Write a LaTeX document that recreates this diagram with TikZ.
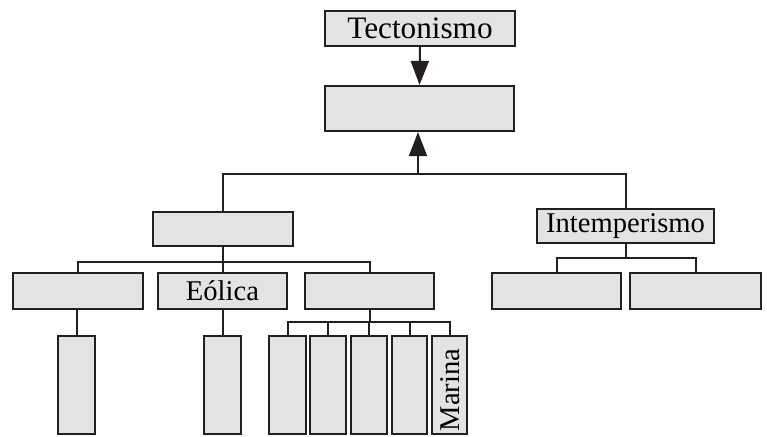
\documentclass[tikz,border=0pt]{standalone}
\usepackage{fontspec}
\setmainfont{Liberation Serif}
\usetikzlibrary{arrows.meta}
\definecolor{boxfill}{RGB}{226,227,229}
\definecolor{ink}{RGB}{35,31,32}
\begin{document}
\begin{tikzpicture}[x=0.5pt,y=-0.5pt,
  box/.style={draw=ink,fill=boxfill,line width=1.1pt,inner sep=0pt,font=\fontsize{14.3}{14.3}\selectfont},
  conn/.style={draw=ink,line width=1pt},
  arr/.style={conn,-{Triangle[length=12pt,width=9pt]}}]
\useasboundingbox (0,0) rectangle (767,436);
% nodes
\node[box,minimum width=95pt,minimum height=17.5pt,font=\fontsize{15.6}{15.6}\selectfont] (T) at (420,28.5) {Tectonismo};
\node[box,minimum width=94.5pt,minimum height=22.5pt] (M) at (419.5,108.5) {};
\node[box,minimum width=70pt,minimum height=17pt] (L) at (223,229) {};
\node[box,minimum width=88.5pt,minimum height=17pt] (I) at (625.5,226) {Intemperismo};
\node[box,minimum width=65pt,minimum height=18pt] (A) at (78,291) {};
\node[box,minimum width=64.5pt,minimum height=18pt] (E) at (222.5,291) {Eólica};
\node[box,minimum width=64.5pt,minimum height=18pt] (C) at (369.5,291) {};
\node[box,minimum width=64.5pt,minimum height=18pt] (I1) at (556.5,291) {};
\node[box,minimum width=65.5pt,minimum height=18pt] (I2) at (695.5,291) {};
\node[box,minimum width=18.5pt,minimum height=49pt] (V1) at (76.5,385) {};
\node[box,minimum width=18.5pt,minimum height=49pt] (V2) at (222.5,385) {};
\node[box,minimum width=18.5pt,minimum height=49pt] (C1) at (287.5,385) {};
\node[box,minimum width=18pt,minimum height=49pt] (C2) at (328,385) {};
\node[box,minimum width=18pt,minimum height=49pt] (C3) at (369,385) {};
\node[box,minimum width=17.5pt,minimum height=49pt] (C4) at (409.5,385) {};
\node[box,minimum width=17.5pt,minimum height=49pt] (C5) at (449.5,385) {};
\node[rotate=90,font=\fontsize{14.3}{14.3}\selectfont,inner sep=0pt] (MT) at (450,390) {Marina};
% junctions
\coordinate (hb) at (418,174);
\coordinate (lb) at (223,262);
\coordinate (rb) at (625.5,258);
\coordinate (cb) at (369.5,322);
% connectors
\draw[arr] (T.south) -- (M.north);
\draw[arr] (hb) -- (hb |- M.south);
\draw[conn] (L.north) |- (hb) -| (I.north);
\draw[conn] (L.south) -- (lb);
\draw[conn] (A.north) |- (lb) -| (C.north);
\draw[conn] (E.north) -- (E.north |- lb);
\draw[conn] (I.south) -- (rb);
\draw[conn] (I1.north) |- (rb) -| (I2.north);
\draw[conn] (A.south -| V1.north) -- (V1.north);
\draw[conn] (E.south) -- (V2.north);
\draw[conn] (C.south) -- (cb);
\draw[conn] (C1.north) |- (cb) -| (C5.north);
\draw[conn] (C2.north) -- (C2.north |- cb);
\draw[conn] (C3.north) -- (C3.north |- cb);
\draw[conn] (C4.north) -- (C4.north |- cb);
\end{tikzpicture}
\end{document}
